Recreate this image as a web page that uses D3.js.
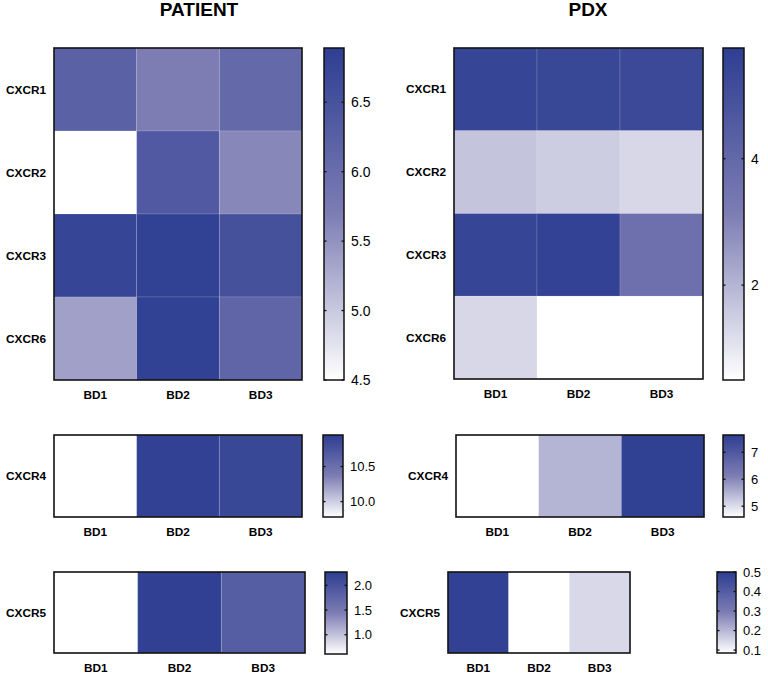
<!DOCTYPE html>
<html>
<head>
<meta charset="utf-8">
<script src="https://cdn.jsdelivr.net/npm/d3@7"></script>
<style>
  body { margin: 0; background: #fff; }
  svg { display: block; }
  text { font-family: "Liberation Sans", Arial, sans-serif; }
</style>
</head>
<body>
<div id="chart"></div>
<script>
// Categories
var samples = ["BD1", "BD2", "BD3"];
var mainRows = ["CXCR1", "CXCR2", "CXCR3", "CXCR6"];

// PATIENT values (rows x samples)
var patientMain = [
  [6.22, 5.70, 6.08],
  [4.50, 6.38, 5.60],
  [6.75, 6.84, 6.53],
  [5.37, 6.84, 6.15]
];
var patientCxcr4 = [[9.78, 10.92, 10.87]];
var patientCxcr5 = [[0.61, 2.24, 1.86]];

// PDX values
var pdxMain = [
  [5.45, 5.38, 5.30],
  [1.70, 1.50, 1.30],
  [5.45, 5.60, 3.65],
  [1.30, 0.50, 0.50]
];
var pdxCxcr4 = [[4.60, 5.48, 7.60]];
var pdxCxcr5 = [[0.49, 0.085, 0.147]];

// Colour-bar ranges and ticks
var patientMainDomain = [4.5, 6.89], patientMainTicks = [4.5, 5.0, 5.5, 6.0, 6.5];
var patientCxcr4Domain = [9.78, 10.95], patientCxcr4Ticks = [10.0, 10.5];
var patientCxcr5Domain = [0.61, 2.27], patientCxcr5Ticks = [1.0, 1.5, 2.0];
var pdxMainDomain = [0.5, 5.75], pdxMainTicks = [2, 4];
var pdxCxcr4Domain = [4.6, 7.64], pdxCxcr4Ticks = [5, 6, 7];
var pdxCxcr5Domain = [0.085, 0.5], pdxCxcr5Ticks = [0.1, 0.2, 0.3, 0.4, 0.5];

// white -> lavender -> dark blue
var rampColors = ["#ffffff", "#7d7db4", "#2e3e92"];

var svg = d3.select("#chart").append("svg")
  .attr("width", 768)
  .attr("height", 678);

var defs = svg.append("defs");
var grad = defs.append("linearGradient")
  .attr("id", "cbGrad")
  .attr("x1", 0).attr("y1", 1).attr("x2", 0).attr("y2", 0);
rampColors.forEach(function(c, i) {
  grad.append("stop").attr("offset", (i * 50) + "%").attr("stop-color", c);
});

// titles
svg.append("text").attr("x", 199).attr("y", 16).attr("text-anchor", "middle")
  .style("font-size", "19px").style("font-weight", "bold").text("PATIENT");
svg.append("text").attr("x", 588).attr("y", 16).attr("text-anchor", "middle")
  .style("font-size", "19px").style("font-weight", "bold").text("PDX");

function drawPanel(cfg) {
  var g = svg.append("g");
  var x = d3.scaleBand().domain(samples).range([cfg.x0, cfg.x1]);
  var y = d3.scaleBand().domain(cfg.rows).range([cfg.y0, cfg.y1]);
  var d0 = cfg.domain[0], d1 = cfg.domain[1];
  var color = d3.scaleLinear().domain([d0, (d0 + d1) / 2, d1]).range(rampColors)
    .interpolate(d3.interpolateRgb).clamp(true);

  var cells = [];
  cfg.values.forEach(function(row, i) {
    row.forEach(function(v, j) {
      cells.push({ row: cfg.rows[i], col: samples[j], v: v });
    });
  });

  g.selectAll(".cell")
    .data(cells)
    .enter()
    .append("rect")
      .attr("class", "cell")
      .attr("x", function(d) { return x(d.col); })
      .attr("y", function(d) { return y(d.row); })
      .attr("width", x.bandwidth())
      .attr("height", y.bandwidth())
      .style("fill", function(d) { return color(d.v); })
      .style("stroke", "rgba(255,255,255,0.18)")
      .style("stroke-width", 0.8);

  g.append("rect")
    .attr("x", cfg.x0).attr("y", cfg.y0)
    .attr("width", cfg.x1 - cfg.x0).attr("height", cfg.y1 - cfg.y0)
    .style("fill", "none").style("stroke", "#111").style("stroke-width", 1.6);

  // row labels
  g.selectAll(".rlab")
    .data(cfg.rows)
    .enter()
    .append("text")
      .attr("x", cfg.x0 - 8)
      .attr("y", function(d) { return y(d) + y.bandwidth() / 2 + 4; })
      .attr("text-anchor", "end")
      .style("font-size", "11.8px").style("font-weight", "bold")
      .text(function(d) { return d; });

  // column labels
  g.selectAll(".clab")
    .data(samples)
    .enter()
    .append("text")
      .attr("x", function(d) { return x(d) + x.bandwidth() / 2; })
      .attr("y", cfg.y1 + 18.5)
      .attr("text-anchor", "middle")
      .style("font-size", "11.8px").style("font-weight", "bold")
      .text(function(d) { return d; });

  // colour bar
  var cb = d3.scaleLinear().domain(cfg.domain).range([cfg.cby1, cfg.cby0]);
  g.append("rect")
    .attr("x", cfg.cbx0).attr("y", cfg.cby0)
    .attr("width", cfg.cbx1 - cfg.cbx0).attr("height", cfg.cby1 - cfg.cby0)
    .style("fill", "url(#cbGrad)")
    .style("stroke", "#111").style("stroke-width", 1.5);

  var tk = g.selectAll(".tick")
    .data(cfg.ticks)
    .enter()
    .append("g")
      .attr("transform", function(d) { return "translate(0," + cb(d) + ")"; });
  tk.append("line")
    .attr("x1", cfg.cbx0).attr("x2", cfg.cbx0 + 2.5)
    .style("stroke", "#111").style("stroke-width", 1.3);
  tk.append("line")
    .attr("x1", cfg.cbx1 - 2.5).attr("x2", cfg.cbx1)
    .style("stroke", "#111").style("stroke-width", 1.3);
  tk.append("text")
    .attr("x", cfg.cbx1 + 7)
    .attr("y", cfg.fs * 0.36)
    .style("font-size", cfg.fs + "px")
    .text(function(d) { return d3.format(cfg.fmt)(d); });
}

drawPanel({ rows: mainRows, values: patientMain, domain: patientMainDomain, ticks: patientMainTicks,
  fmt: ".1f", fs: 14, x0: 54, x1: 302, y0: 48, y1: 380, cbx0: 324, cbx1: 344, cby0: 48, cby1: 380 });
drawPanel({ rows: ["CXCR4"], values: patientCxcr4, domain: patientCxcr4Domain, ticks: patientCxcr4Ticks,
  fmt: ".1f", fs: 13, x0: 54, x1: 302, y0: 435, y1: 517, cbx0: 323, cbx1: 343, cby0: 435, cby1: 517 });
drawPanel({ rows: ["CXCR5"], values: patientCxcr5, domain: patientCxcr5Domain, ticks: patientCxcr5Ticks,
  fmt: ".1f", fs: 13, x0: 54, x1: 305, y0: 572, y1: 653, cbx0: 325, cbx1: 347, cby0: 572, cby1: 654 });
drawPanel({ rows: mainRows, values: pdxMain, domain: pdxMainDomain, ticks: pdxMainTicks,
  fmt: "d", fs: 14, x0: 454, x1: 703, y0: 48, y1: 379, cbx0: 723, cbx1: 744, cby0: 48, cby1: 380 });
drawPanel({ rows: ["CXCR4"], values: pdxCxcr4, domain: pdxCxcr4Domain, ticks: pdxCxcr4Ticks,
  fmt: "d", fs: 13, x0: 456, x1: 704, y0: 435, y1: 517, cbx0: 723, cbx1: 744, cby0: 435, cby1: 517 });
drawPanel({ rows: ["CXCR5"], values: pdxCxcr5, domain: pdxCxcr5Domain, ticks: pdxCxcr5Ticks,
  fmt: ".1f", fs: 13, x0: 448, x1: 630, y0: 572, y1: 653, cbx0: 717, cbx1: 736, cby0: 572, cby1: 653 });
</script>
</body>
</html>
